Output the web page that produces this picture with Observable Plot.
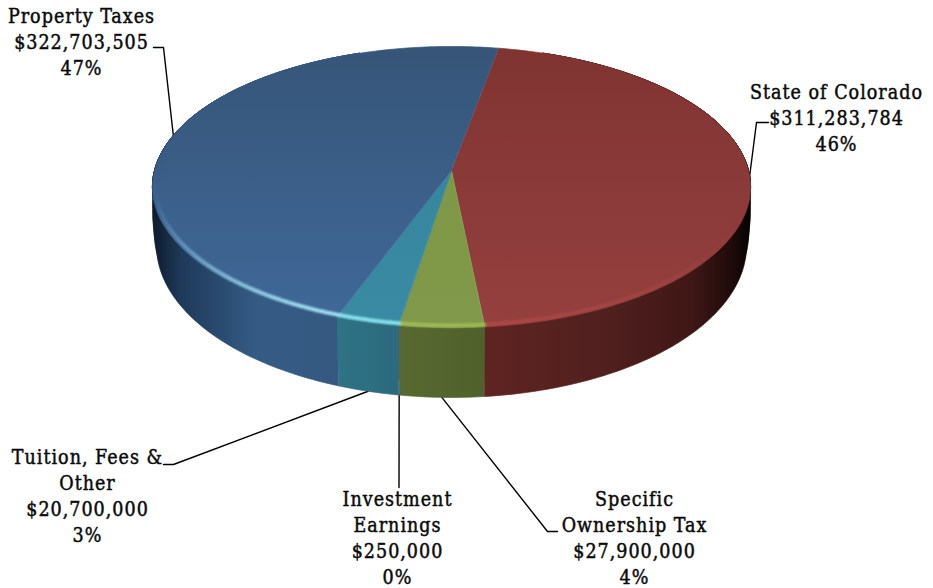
<!DOCTYPE html>
<html>
<head>
<meta charset="utf-8">
<script src="https://cdn.jsdelivr.net/npm/d3@7"></script>
<script src="https://cdn.jsdelivr.net/npm/@observablehq/plot@0.6"></script>
<style>
  html, body { margin: 0; padding: 0; background: #fff; }
  svg { display: block; }
</style>
</head>
<body>
<div id="chart"></div>
<script>
// Revenue sources, clockwise around the pie.
const categories = ["State of Colorado", "Specific\nOwnership Tax", "Investment\nEarnings", "Tuition, Fees &\nOther", "Property Taxes"];
const amounts = [311283784, 27900000, 250000, 20700000, 322703505];

// Slice colours: top face [back, front], highlight on the bevel, wall stops.
const topColors = [["#7f3432", "#95403f"], ["#7d9846", "#80994a"], ["#35869f", "#35869f"], ["#35869f", "#398aa2"], ["#365578", "#3f6898"]];
const rimColors = ["#b04a47", "#a3bd58", "#8fe6f2", "#8fe6f2", "#a5e4f4"];
const wallStops = [
  [[0, "#5e2422"], [0.45, "#50201e"], [0.78, "#3f1716"], [0.93, "#1e0b0a"], [1, "#060202"]],
  [[0, "#586a31"], [1, "#4f602c"]],
  [[0, "#2c6a7c"], [1, "#2c6a7c"]],
  [[0, "#2f7385"], [1, "#2c6a7e"]],
  [[0, "#0e1b2d"], [0.14, "#1f3a5a"], [0.5, "#355b85"], [1, "#35597f"]]
];

// Label centres and the elbow of each leader line, in chart pixels.
const labelX = [836, 634, 397, 87, 81];
const labelY = [116, 536, 536, 494, 40];
const elbowX = [756, 547, 398.5, 173, 163];
const elbowY = [122, 531, 487, 464, 47];
const tipX = [768, 557, 398.5, 163, 153];
const tipY = [122, 531, 487, 464, 47];
const anchorOnBase = [false, true, true, true, false];

// Perspective view of the disc: top face, rounded shoulders below it, and the base.
const startAngle = 10.2;
const topDisc = {cx: 451, cy: 170, b: 297, a: 138.6, p: 0.1174};
const shoulderDiscs = [
  {cx: 451, cy: 186, b: 297, a: 139, p: 0.1174},
  {cx: 451, cy: 198, b: 296.8, a: 140, p: 0.1174},
  {cx: 451, cy: 208, b: 296, a: 142, p: 0.1174},
  {cx: 451, cy: 217, b: 295, a: 145, p: 0.1174}
];
const baseDisc = {cx: 451, cy: 227, b: 293, a: 150, p: 0.1174};
const project = (disc, deg, r = 1) => {
  const t = deg * Math.PI / 180;
  const u = r * Math.sin(t), v = -r * Math.cos(t), k = 1 / (1 - disc.p * v);
  return {x: disc.cx + disc.b * u * k, y: disc.cy + disc.a * v * k};
};
const arc = (disc, a0, a1, r = 1) => {
  const n = Math.max(2, Math.ceil(Math.abs(a1 - a0)));
  return d3.range(n + 1).map((i) => project(disc, a0 + (a1 - a0) * i / n, r));
};

const total = d3.sum(amounts);
let running = startAngle;
const slices = amounts.map((value, i) => {
  const a0 = running, a1 = running + value / total * 360;
  running = a1;
  return {i, a0, a1, mid: (a0 + a1) / 2, value};
});

// Walls only need the half facing the viewer; the top face hides the rest.
const wallSpan = (s) => [Math.max(s.a0, 20), s.a1 > 340 ? 340 : s.a1];
const wallPolygon = (s, lower) => {
  const [a0, a1] = wallSpan(s);
  return [...arc(topDisc, a0, a1), ...arc(lower, a1, a0)];
};
const topPolygon = (s) => [{x: topDisc.cx, y: topDisc.cy}, ...arc(topDisc, s.a0, s.a1)];

// Bevel brightness falls away from the front-left of the disc.
const rimStrength = (deg) => {
  const d = Math.abs(deg - 198);
  return Math.pow(Math.cos(Math.min(d, 90) * Math.PI / 180), deg < 198 ? 1.6 : 3.5);
};
const rimSegments = slices.flatMap((s) => {
  const base = topColors[s.i][1];
  return d3.range(s.a0, s.a1, 1.5).flatMap((a, j) => {
    const end = Math.min(a + 1.5, s.a1);
    const strength = rimStrength((a + end) / 2);
    const stroke = d3.interpolateRgb(base, rimColors[s.i])(strength);
    const opacity = Math.min(1, strength * 3);
    return arc(topDisc, a, end, 0.988).map((p) => ({...p, seg: `${s.i}-${j}`, stroke, opacity}));
  });
}).filter((p) => p.opacity > 0.01);

const leaders = slices.flatMap((s) => {
  const tip = project(anchorOnBase[s.i] ? baseDisc : topDisc, s.mid);
  return [
    {...tip, id: s.i},
    {x: elbowX[s.i], y: elbowY[s.i], id: s.i},
    {x: tipX[s.i], y: tipY[s.i], id: s.i}
  ];
});

const labels = slices.map((s) => ({
  x: labelX[s.i],
  y: labelY[s.i],
  text: `${categories[s.i]}\n${d3.format("$,")(s.value)}\n${Math.round(s.value / total * 100)}%`
}));

// Gradient definitions live in a small custom mark.
const gradients = () => {
  const defs = d3.create("svg:defs");
  slices.forEach((s) => {
    const vertical = defs.append("linearGradient").attr("id", `top-${s.i}`)
      .attr("x1", 0).attr("y1", 0).attr("x2", 0).attr("y2", 1);
    topColors[s.i].forEach((c, k) => vertical.append("stop").attr("offset", k).attr("stop-color", c));
    const horizontal = defs.append("linearGradient").attr("id", `wall-${s.i}`)
      .attr("x1", 0).attr("y1", 0).attr("x2", 1).attr("y2", 0);
    wallStops[s.i].forEach(([o, c]) => horizontal.append("stop").attr("offset", o).attr("stop-color", c));
  });
  return defs.node();
};

// A slice too thin for a bounding-box gradient gets a flat paint.
const isSliver = (s) => s.a1 - s.a0 < 1;
const facePaint = (s, kind) => {
  if (!isSliver(s)) return `url(#${kind}-${s.i})`;
  return kind === "wall" ? wallStops[s.i][0][1] : topColors[s.i][0];
};
const faceOptions = (s, kind) => {
  const paint = facePaint(s, kind);
  return {x: "x", y: "y", fill: paint, stroke: paint, strokeWidth: 0.7, curve: "linear"};
};

const chart = Plot.plot({
  width: 933,
  height: 588,
  margin: 0,
  x: {domain: [0, 933], range: [0, 933], axis: null},
  y: {domain: [0, 588], range: [0, 588], axis: null},
  style: {background: "#fff", fontFamily: "'DejaVu Serif Condensed', 'DejaVu Serif', serif", letterSpacing: "1px", overflow: "visible"},
  marks: [
    gradients,
    Plot.line(leaders, {x: "x", y: "y", z: "id", stroke: "#000", strokeWidth: 1.4, curve: "linear"}),
    ...slices.map((s) => Plot.line(wallPolygon(s, baseDisc), faceOptions(s, "wall"))),
    ...shoulderDiscs.flatMap((disc) => slices.map((s) => Plot.line(wallPolygon(s, disc), faceOptions(s, "wall")))),
    ...slices.map((s) => Plot.line(topPolygon(s), faceOptions(s, "top"))),
    Plot.line(rimSegments, {x: "x", y: "y", z: "seg", stroke: "stroke", strokeOpacity: "opacity", strokeWidth: 3.6, curve: "linear", imageFilter: "blur(0.8px)"}),
    Plot.text(labels, {x: "x", y: "y", text: "text", fontSize: 19.5, lineHeight: 1.33, fill: "#0a0a0a", textAnchor: "middle", lineAnchor: "middle", stroke: "#0a0a0a", strokeWidth: 0.45})
  ]
});
document.getElementById("chart").append(chart);
</script>
</body>
</html>
